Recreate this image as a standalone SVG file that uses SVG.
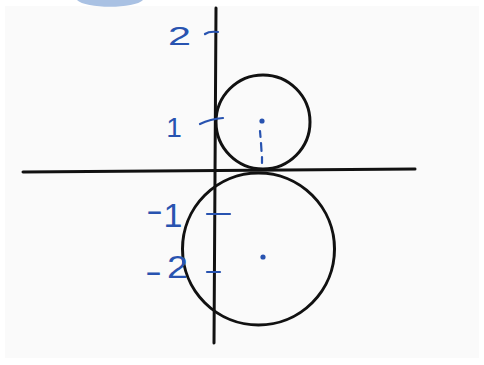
<svg xmlns="http://www.w3.org/2000/svg" width="484" height="365" viewBox="0 0 484 365">
<style>
.ink{fill:none;stroke:#111;stroke-width:3;stroke-linecap:round}
.blue{fill:none;stroke:#2853b0;stroke-width:2.2;stroke-linecap:round}
.lbl{font-family:"Liberation Sans",Arial,sans-serif;fill:#2853b0}
</style>
<rect x="0" y="0" width="484" height="365" fill="#ffffff"/>
<rect x="5" y="6" width="474" height="352" fill="#fafafa"/>
<path d="M77,0 C85,9 135,9 143,0 Z" fill="#a9c1e3"/>
<g id="axes">
<path class="ink" d="M216,8 L214,343"/>
<path class="ink" d="M23,172 L415,169"/>
</g>
<g id="circles">
<circle id="upper" class="ink" cx="263" cy="122" r="47"/>
<circle id="lower" class="ink" cx="258.5" cy="249" r="76"/>
</g>
<g id="marks">
<circle cx="262" cy="121" r="2.6" fill="#2853b0"/>
<circle cx="263" cy="257" r="2.6" fill="#2853b0"/>
<path class="blue" d="M260,131 L260.5,137 M261,143 L261.5,151 M262,157 L262,163"/>
<path class="blue" d="M205,34 Q209,31 218,32"/>
<path class="blue" d="M200,124 Q210,119 223,118"/>
<path class="blue" d="M207,214 L230,214"/>
<path class="blue" d="M207,272 L220,272"/>
</g>
<g id="labels">
<text class="lbl" x="168" y="45" font-size="26" textLength="23" lengthAdjust="spacingAndGlyphs">2</text>
<text class="lbl" x="174" y="137" font-size="28" text-anchor="middle">1</text>
<text class="lbl" font-size="34"><tspan x="146" y="222" textLength="17" lengthAdjust="spacingAndGlyphs">-</tspan><tspan x="173" y="227" text-anchor="middle">1</tspan></text>
<text class="lbl" font-size="32"><tspan x="145" y="282" textLength="17" lengthAdjust="spacingAndGlyphs">-</tspan><tspan x="167" y="278" textLength="21" lengthAdjust="spacingAndGlyphs">2</tspan></text>
</g>
</svg>
